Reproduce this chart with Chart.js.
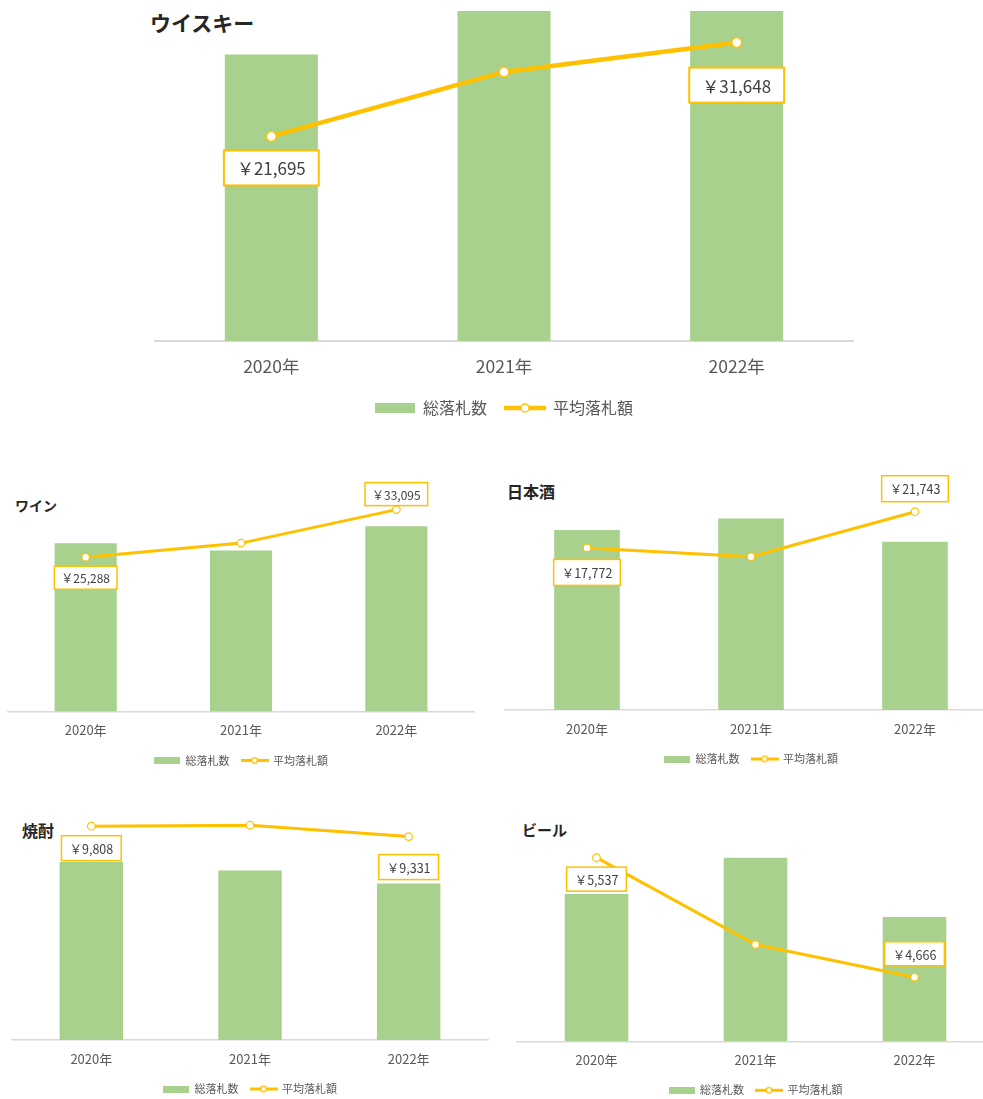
<!DOCTYPE html>
<html lang="ja">
<head>
<meta charset="utf-8">
<script src="https://cdn.jsdelivr.net/npm/chart.js@4.4.0/dist/chart.umd.min.js"></script>
<style>
body { margin: 0; width: 983px; height: 1099px; overflow: hidden; background: #fff; position: relative; font-family: 'Noto Sans CJK JP', sans-serif; }
canvas { position: absolute; }
.title { position: absolute; font-weight: bold; color: #262626; white-space: nowrap; line-height: 1; }
</style>
</head>
<body>
<div class="title" style="left:150px;top:12px;font-size:21px">ウイスキー</div>
<div class="title" style="left:15px;top:498px;font-size:14px">ワイン</div>
<div class="title" style="left:507px;top:483px;font-size:16px">日本酒</div>
<div class="title" style="left:22px;top:822px;font-size:16px">焼酎</div>
<div class="title" style="left:522px;top:822px;font-size:15px">ビール</div>

<canvas id="whisky"></canvas>
<canvas id="wine"></canvas>
<canvas id="sake"></canvas>
<canvas id="shochu"></canvas>
<canvas id="beer"></canvas>

<script>
// categories and series
const years = ['2020年', '2021年', '2022年'];
const seriesNames = ['総落札数', '平均落札額'];

const whiskyCount = [434, 540, 560];
const whiskyPrice = [21695, 28540, 31648];
const wineCount = [394, 377, 434];
const winePrice = [25288, 27600, 33095];
const sakeCount = [395, 420, 369];
const sakePrice = [17772, 16810, 21743];
const shochuCount = [408, 389, 359];
const shochuPrice = [9808, 9850, 9331];
const beerCount = [383, 477, 323];
const beerPrice = [5537, 4905, 4666];

const FONT = "'Noto Sans CJK JP', 'Noto Sans', sans-serif";
const GREEN = '#A9D18E';
const YELLOW = '#FFC000';

// legend swatches drawn on small canvases
function barSwatch(w, h) {
    const c = document.createElement('canvas');
    c.width = w; c.height = h;
    const g = c.getContext('2d');
    g.fillStyle = GREEN;
    g.fillRect(0, 0, w, h);
    return c;
}

function lineSwatch(w, h, lw, r) {
    const c = document.createElement('canvas');
    c.width = w; c.height = h;
    const g = c.getContext('2d');
    g.strokeStyle = YELLOW;
    g.lineWidth = lw;
    g.beginPath();
    g.moveTo(0, h / 2);
    g.lineTo(w, h / 2);
    g.stroke();
    g.beginPath();
    g.arc(w / 2, h / 2, r, 0, Math.PI * 2);
    g.fillStyle = '#fff';
    g.fill();
    g.lineWidth = 1.3;
    g.stroke();
    return c;
}

// boxed price labels on first and last points
const priceLabels = {
    id: 'priceLabels',
    afterDatasetsDraw(chart, args, opts) {
        const meta = chart.getDatasetMeta(1);
        const values = chart.data.datasets[1].data;
        const ctx = chart.ctx;
        ctx.save();
        ctx.font = opts.size + 'px ' + FONT;
        ctx.textAlign = 'center';
        ctx.textBaseline = 'middle';
        opts.offsets.forEach((dy, i) => {
            if (dy === null) return;
            const pt = meta.data[i];
            const text = '￥' + values[i].toLocaleString('en-US');
            const w = ctx.measureText(text).width + opts.padX * 2;
            const h = opts.boxH;
            const cy = pt.y + dy;
            ctx.fillStyle = '#fff';
            ctx.fillRect(pt.x - w / 2, cy - h / 2, w, h);
            ctx.strokeStyle = YELLOW;
            ctx.lineWidth = opts.border;
            ctx.strokeRect(pt.x - w / 2, cy - h / 2, w, h);
            ctx.fillStyle = '#404040';
            ctx.fillText(text, pt.x, cy + 1);
        });
        ctx.restore();
    }
};

function makeChart(id, counts, prices, g) {
    // place the canvas so the plot area lands on g.left..g.right, g.top..g.bottom
    const tickPad = g.tickGap - g.tickSize * 0.6;
    const axisH = g.legendGap - g.legendPad - g.legendSize / 2;
    const legH = g.legendSize + g.legendPad + 10;
    const canvasTop = g.top - 20;
    const exactH = g.bottom + axisH + legH - canvasTop;
    const canvasH = Math.ceil(exactH);

    const el = document.getElementById(id);
    el.width = g.right - g.left + 40;
    el.height = canvasH;
    el.style.left = (g.left - 20) + 'px';
    el.style.top = canvasTop + 'px';

    const swatches = [barSwatch(g.swatchW, g.swatchH), lineSwatch(g.swatchW + 2, g.swatchH + 4, g.lineWidth, g.pointRadius - 1)];

    return new Chart(el, {
        data: {
            labels: years,
            datasets: [
                {
                    type: 'bar',
                    label: seriesNames[0],
                    data: counts,
                    yAxisID: 'yCount',
                    backgroundColor: GREEN,
                    barPercentage: 0.4,
                    categoryPercentage: 1,
                    clip: 0,
                    order: 2
                },
                {
                    type: 'line',
                    label: seriesNames[1],
                    data: prices,
                    yAxisID: 'yPrice',
                    borderColor: YELLOW,
                    borderWidth: g.lineWidth,
                    pointRadius: g.pointRadius,
                    pointBorderWidth: g.pointBorder,
                    pointBackgroundColor: '#fff',
                    pointBorderColor: YELLOW,
                    tension: 0,
                    clip: false,
                    order: 1
                }
            ]
        },
        options: {
            responsive: false,
            animation: false,
            layout: {
                padding: { left: 20, right: 20, top: 20, bottom: canvasH - exactH }
            },
            scales: {
                x: {
                    offset: true,
                    grid: { display: false, drawTicks: false },
                    border: { display: true, color: '#D9D9D9', width: g.axisWidth },
                    ticks: { color: '#595959', padding: tickPad, font: { family: FONT, size: g.tickSize } },
                    afterFit: (axis) => { axis.height = axisH; }
                },
                yCount: { display: false, min: 0, max: g.countMax },
                yPrice: { display: false, min: g.priceMin, max: g.priceMax }
            },
            plugins: {
                tooltip: { enabled: false },
                legend: {
                    position: 'bottom',
                    labels: {
                        usePointStyle: true,
                        pointStyleWidth: g.swatchW,
                        padding: g.legendPad,
                        color: '#595959',
                        font: { family: FONT, size: g.legendSize },
                        generateLabels: () => seriesNames.map((name, i) => ({
                            text: name,
                            pointStyle: swatches[i],
                            fillStyle: 'transparent',
                            strokeStyle: 'transparent',
                            lineWidth: 0,
                            fontColor: '#595959',
                            datasetIndex: i
                        }))
                    }
                },
                priceLabels: g.labels
            }
        },
        plugins: [priceLabels]
    });
}

const big = { tickSize: 17.5, tickGap: 25, legendSize: 16, legendGap: 67, legendPad: 18, swatchW: 40, swatchH: 10, lineWidth: 4.5, pointRadius: 5, pointBorder: 1.5, axisWidth: 2 };
const small = { tickSize: 13, tickGap: 19, legendSize: 11, legendGap: 49, legendPad: 12, swatchW: 26, swatchH: 7, lineWidth: 3, pointRadius: 3.8, pointBorder: 1.2, axisWidth: 1.5 };

makeChart('whisky', whiskyCount, whiskyPrice, Object.assign({}, big, {
    left: 155, right: 853, top: 11, bottom: 341, countMax: 500, priceMin: 0, priceMax: 35000,
    labels: { offsets: [31.5, null, 42.5], size: 17, padX: 13, boxH: 35, border: 2 }
}));
makeChart('wine', wineCount, winePrice, Object.assign({}, small, {
    left: 8, right: 474, top: 497.6, bottom: 711, countMax: 500, priceMin: 0, priceMax: 35000,
    labels: { offsets: [20.5, null, -15.5], size: 12, padX: 7, boxH: 23, border: 1.5 }
}));
makeChart('sake', sakeCount, sakePrice, Object.assign({}, small, {
    left: 505, right: 997, top: 482, bottom: 710, countMax: 500, priceMin: 0, priceMax: 25000,
    labels: { offsets: [24.5, null, -23], size: 12.5, padX: 8, boxH: 26, border: 1.5 }
}));
makeChart('shochu', shochuCount, shochuPrice, Object.assign({}, small, {
    left: 12, right: 488, top: 822, bottom: 1040, countMax: 500, priceMin: 0, priceMax: 10000,
    labels: { offsets: [22, null, 30.5], size: 12.5, padX: 8, boxH: 25, border: 1.5 }
}));
makeChart('beer', beerCount, beerPrice, Object.assign({}, small, {
    left: 517, right: 994, top: 848.7, bottom: 1041, countMax: 500, priceMin: 4200, priceMax: 5600,
    labels: { offsets: [21.5, null, -23.5], size: 12.5, padX: 8, boxH: 24, border: 1.5 }
}));
</script>
</body>
</html>
